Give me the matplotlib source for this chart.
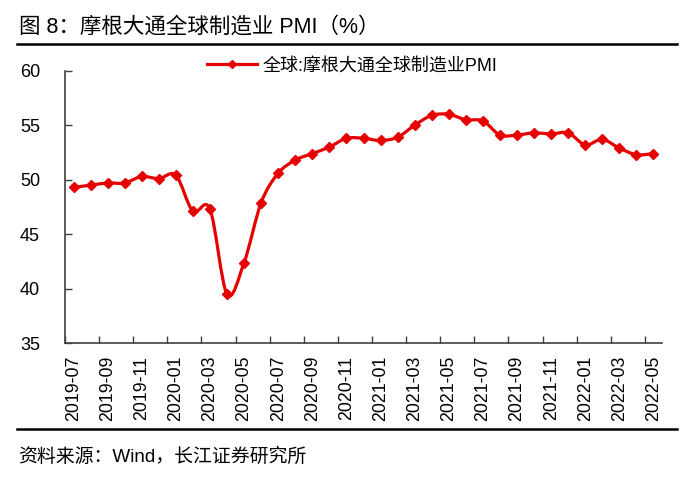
import matplotlib
matplotlib.use("Agg")
import matplotlib.pyplot as plt
from matplotlib.path import Path
from matplotlib.patches import PathPatch
from matplotlib.lines import Line2D
import numpy as np

plt.rcParams['font.family'] = ['Liberation Sans', 'Noto Sans CJK SC', 'DejaVu Sans']

months = ["2019-07", "2019-08", "2019-09", "2019-10", "2019-11", "2019-12",
          "2020-01", "2020-02", "2020-03", "2020-04", "2020-05", "2020-06",
          "2020-07", "2020-08", "2020-09", "2020-10", "2020-11", "2020-12",
          "2021-01", "2021-02", "2021-03", "2021-04", "2021-05", "2021-06",
          "2021-07", "2021-08", "2021-09", "2021-10", "2021-11", "2021-12",
          "2022-01", "2022-02", "2022-03", "2022-04", "2022-05"]
pmi = [49.3, 49.5, 49.7, 49.7, 50.3, 50.1,
       50.4, 47.1, 47.3, 39.5, 42.4, 47.9,
       50.6, 51.8, 52.4, 53.0, 53.8, 53.8,
       53.6, 53.9, 55.0, 55.9, 56.0, 55.5,
       55.4, 54.1, 54.1, 54.3, 54.2, 54.3,
       53.2, 53.7, 52.9, 52.3, 52.4]
series_name = "全球:摩根大通全球制造业PMI"
title = "图 8：摩根大通全球制造业 PMI（%）"
source = "资料来源：Wind，长江证券研究所"

W, H = 698, 482
fig = plt.figure(figsize=(W / 100, H / 100), dpi=100)
ax = fig.add_axes([65 / W, 1 - 343.3 / H, (662 - 65) / W, (343.3 - 70.7) / H])

red = '#E60000'
x = np.arange(len(pmi))
y = np.array(pmi)

# smooth line (Catmull-Rom -> cubic Bezier), like Excel's smoothed line
verts = [(x[0], y[0])]
codes = [Path.MOVETO]
n = len(x)
for i in range(n - 1):
    p0 = (x[i - 1], y[i - 1]) if i > 0 else (x[i], y[i])
    p1 = (x[i], y[i])
    p2 = (x[i + 1], y[i + 1])
    p3 = (x[i + 2], y[i + 2]) if i + 2 < n else (x[i + 1], y[i + 1])
    c1 = (p1[0] + (p2[0] - p0[0]) / 6, p1[1] + (p2[1] - p0[1]) / 6)
    c2 = (p2[0] - (p3[0] - p1[0]) / 6, p2[1] - (p3[1] - p1[1]) / 6)
    verts += [c1, c2, p2]
    codes += [Path.CURVE4] * 3
ax.add_patch(PathPatch(Path(verts, codes), facecolor='none', edgecolor=red,
                       lw=2.3, capstyle='round', joinstyle='round', zorder=3))
ax.plot(x, y, linestyle='none', marker='D', markersize=5.5, color=red, zorder=4)

ax.set_xlim(-0.5, len(pmi) - 0.5)
ax.set_ylim(35, 60)
ax.set_yticks([35, 40, 45, 50, 55, 60])
ax.set_xticks(np.arange(-0.5, len(pmi) - 1, 2))
ax.set_xticklabels([])
ax.set_xticks(x[::2], minor=True)
ax.set_xticklabels(months[::2], minor=True, rotation=90, fontsize=12.8)
ax.tick_params(axis='x', which='minor', length=0, pad=9)
ax.tick_params(axis='x', which='major', direction='in', length=5, width=1, color='#404040')
ax.tick_params(axis='y', direction='in', length=5, width=1, color='#404040',
               labelsize=13, pad=18)
for s in ['top', 'right']:
    ax.spines[s].set_visible(False)
for s in ['left', 'bottom']:
    ax.spines[s].set_color('#404040')
    ax.spines[s].set_linewidth(1.2)

handle = Line2D([], [], color=red, lw=2.3, marker='D', markersize=4.5)
leg = fig.legend([handle], [series_name], loc='center left',
                 bbox_to_anchor=(207 / W, 1 - 66 / H), frameon=False,
                 fontsize=13, handlelength=2.75, handletextpad=0.33,
                 borderaxespad=0, borderpad=0)

fig.text(19 / W, 1 - 27 / H, title, fontsize=15.5, va='center', ha='left')
fig.text(18 / W, 1 - 457 / H, source, fontsize=13.6, va='center', ha='left')
fig.add_artist(Line2D([17 / W, 677 / W], [1 - 44 / H, 1 - 44 / H], color='black', lw=1.8))
fig.add_artist(Line2D([17 / W, 677 / W], [1 - 429 / H, 1 - 429 / H], color='black', lw=1.8))

fig.savefig('out.png', dpi=100)
